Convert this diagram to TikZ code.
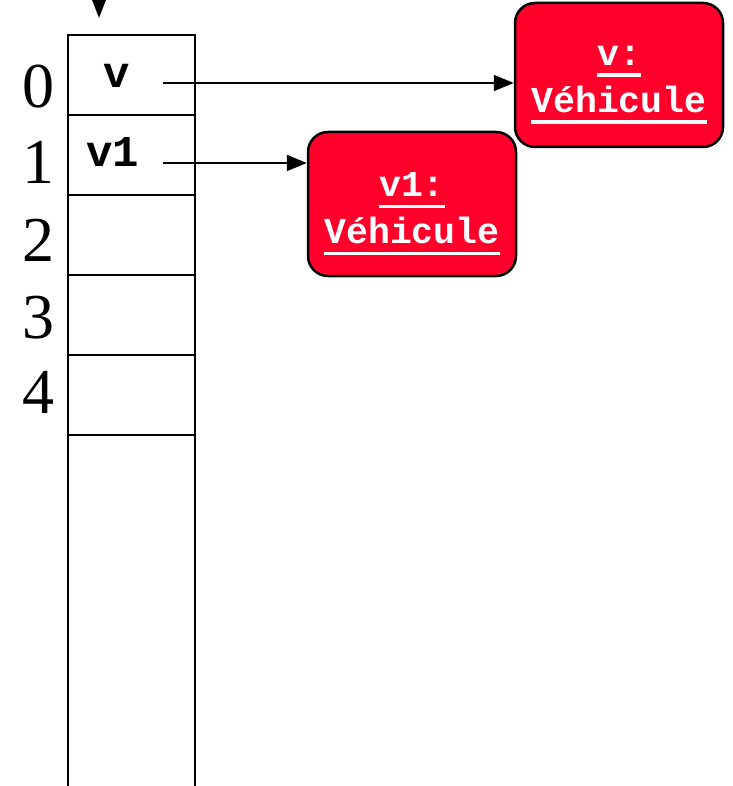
\documentclass[tikz,border=0pt]{standalone}
\usepackage{fontspec}
\setmainfont{Liberation Serif}
\setmonofont{Liberation Mono}
\usetikzlibrary{arrows.meta}
\definecolor{objred}{RGB}{255,0,42}
% underlined word with a thick rule below the baseline
\newcommand\ulword[1]{\setbox0\hbox{#1}\rlap{\copy0}\rule[-11.5pt]{\wd0}{3.5pt}}
\begin{document}
\begin{tikzpicture}[x=1pt,y=-1pt,
  cell/.style={draw, line width=2.5pt, minimum width=127pt, minimum height=80pt, inner sep=0pt, outer sep=0pt},
  index/.style={font=\fontsize{64}{64}\selectfont, anchor=base, inner sep=0pt},
  varname/.style={font=\fontsize{44}{44}\selectfont\ttfamily\bfseries, anchor=base, inner sep=0pt},
  objbox/.style={draw, line width=2.5pt, fill=objred, rounded corners=20pt, minimum width=208pt, minimum height=144pt, inner sep=0pt},
  objtext/.style={font=\fontsize{36.5}{47}\selectfont\ttfamily\bfseries, text=white, align=center, inner sep=0pt},
  ref/.style={line width=2pt, -{Triangle[length=20pt,width=16pt]}}
]
\useasboundingbox (0,0) rectangle (732,786);
\clip (0,0) rectangle (732,786);

% stack frames
\foreach \i in {0,...,4} {
  \node[cell] (c\i) at (131.5, 75+80*\i) {};
}
\draw[line width=2.5pt] (c4.south west) -- (68,800);
\draw[line width=2.5pt] (c4.south east) -- (195,800);

% top-of-stack pointer
\coordinate (topsrc) at (99,-40);
\coordinate (toptip) at (99,18);
\draw[line width=2pt, -{Triangle[length=24pt,width=18pt]}] (topsrc) -- (toptip);

% indices
\node[index] (i0) at (38,108) {0};
\node[index] (i1) at (38,184) {1};
\node[index] (i2) at (38,261) {2};
\node[index] (i3) at (38,338) {3};
\node[index] (i4) at (38,413) {4};

% variable names in the frames
\node[varname] (n0) at (117,88) {v};
\node[varname] (n1) at (113,167) {v1};

% objects
\node[objbox] (o0) at (619,75) {};
\node[objtext] (t0) at ([yshift=-10pt]o0.center) {\ulword{v:}\\\ulword{Véhicule}};
\node[objbox] (o1) at (412,204) {};
\node[objtext] (t1) at ([yshift=-10pt]o1.center) {\ulword{v1:}\\\ulword{Véhicule}};

% references
\coordinate (r0) at (163,83);
\coordinate (r1) at (163,163);
\draw[ref] (r0) -- (r0 -| o0.west);
\draw[ref] (r1) -- (r1 -| o1.west);
\end{tikzpicture}
\end{document}
